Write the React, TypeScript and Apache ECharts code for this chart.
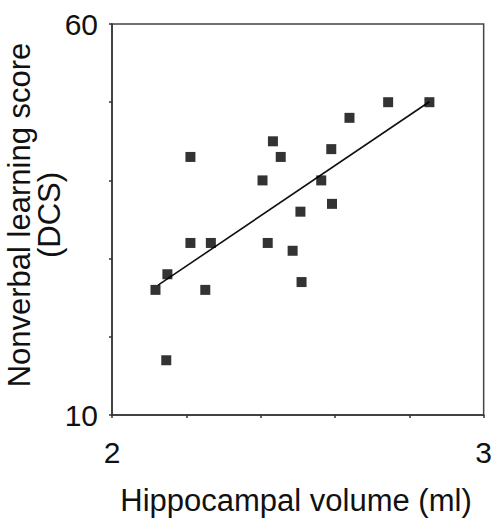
import React, { useEffect, useRef } from "react";
import * as echarts from "echarts";

const volumes = [2.117, 2.149, 2.146, 2.211, 2.211, 2.266, 2.251, 2.405, 2.433, 2.454, 2.419, 2.486, 2.507, 2.51, 2.563, 2.59, 2.592, 2.639, 2.743, 2.854];
const scores = [26, 28, 17, 43, 32, 32, 26, 40, 45, 43, 32, 31, 36, 27, 40, 44, 37, 48, 50, 50];
const fitX = [2.124, 2.854];
const fitY = [26.6, 50.06];
const xTickLabels = ["2", "3"];
const yTickLabels = ["10", "60"];
const xTitle = "Hippocampal volume (ml)";
const yTitle = ["Nonverbal learning score", "(DCS)"];

const FONT = "'Liberation Sans', Arial, sans-serif";

export default function App() {
  const ref = useRef<HTMLDivElement>(null);
  useEffect(() => {
    document.body.style.margin = "0";
    if (!ref.current) return;
    const chart = echarts.init(ref.current, undefined, { renderer: "svg" });
    const axisLine = { show: true, lineStyle: { color: "#333", width: 1.5 } };
    chart.setOption({
      animation: false,
      backgroundColor: "#fff",
      grid: {
        left: 112,
        right: 8,
        top: 24,
        bottom: 104,
        show: true,
        borderColor: "#444",
        borderWidth: 1.5,
        backgroundColor: "transparent",
      },
      xAxis: {
        type: "value",
        min: 2,
        max: 3,
        interval: 0.2,
        axisLine,
        axisTick: { show: true, length: 3, lineStyle: { color: "#333", width: 1.5 } },
        splitLine: { show: false },
        axisLabel: {
          margin: 22,
          fontSize: 30,
          fontFamily: FONT,
          color: "#111",
          formatter: (v: number) => {
            const s = String(Math.round(v * 1000) / 1000);
            return xTickLabels.includes(s) ? s : "";
          },
        },
      },
      yAxis: {
        type: "value",
        min: 10,
        max: 60,
        interval: 10,
        axisLine,
        axisTick: { show: true, length: 3, lineStyle: { color: "#333", width: 1.5 } },
        splitLine: { show: false },
        axisLabel: {
          margin: 14,
          fontSize: 30,
          fontFamily: FONT,
          color: "#111",
          formatter: (v: number) => {
            const s = String(Math.round(v));
            return yTickLabels.includes(s) ? s : "";
          },
        },
      },
      graphic: [
        {
          type: "text",
          x: 296,
          y: 500,
          style: {
            text: xTitle,
            font: `31px ${FONT}`,
            fill: "#111",
            align: "center",
            verticalAlign: "middle",
          },
        },
        {
          type: "text",
          x: 34,
          y: 215,
          rotation: Math.PI / 2,
          style: {
            text: yTitle.join("\n"),
            font: `31px ${FONT}`,
            lineHeight: 30,
            fill: "#111",
            align: "center",
            verticalAlign: "middle",
          },
        },
      ],
      series: [
        {
          type: "line",
          data: fitX.map((x, i) => [x, fitY[i]]),
          showSymbol: false,
          symbol: "none",
          lineStyle: { color: "#111", width: 1.6 },
          z: 2,
        },
        {
          type: "scatter",
          data: volumes.map((x, i) => [x, scores[i]]),
          symbol: "rect",
          symbolSize: 10,
          itemStyle: { color: "#000" },
          z: 3,
        },
      ],
    });
    return () => chart.dispose();
  }, []);
  return <div ref={ref} style={{ width: 495, height: 519 }} />;
}
